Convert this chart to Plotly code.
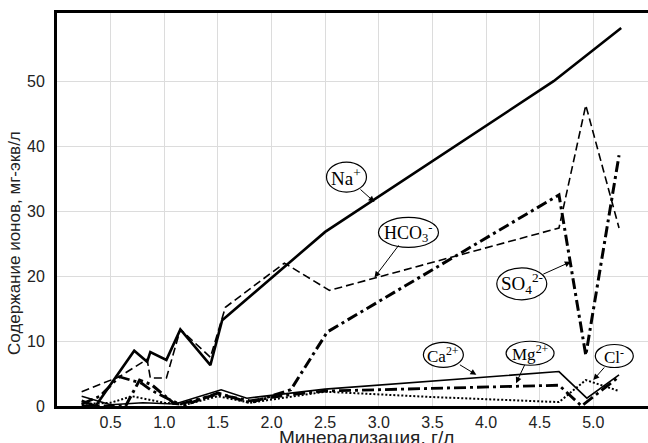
import plotly.graph_objects as go

# ---------------- data ----------------
na_x = [0.23, 0.36, 0.72, 0.84, 0.87, 1.02, 1.15, 1.43, 1.54, 2.50, 4.63, 5.26]
na_y = [0.8, 0.0, 8.5, 6.8, 8.3, 7.1, 11.8, 6.3, 13.2, 26.8, 50.0, 58.2]

hco3_x = [0.23, 0.58, 0.84, 0.87, 1.02, 1.15, 1.43, 1.57, 2.12, 2.54, 4.68, 4.93, 5.24]
hco3_y = [2.2, 4.5, 7.2, 4.3, 4.3, 11.8, 7.5, 15.2, 22.0, 17.8, 27.4, 46.3, 27.4]

so4_x = [0.23, 0.5, 0.64, 0.77, 0.88, 1.09, 1.2, 1.5, 1.8, 2.18, 2.52, 4.68, 4.93, 5.24]
so4_y = [0.0, 0.0, 0.0, 4.0, 3.3, 0.4, 0.2, 2.0, 0.5, 2.5, 11.4, 32.5, 7.8, 38.6]

ca_x = [0.23, 0.5, 0.8, 1.1, 1.53, 1.77, 2.5, 4.68, 4.94, 5.24]
ca_y = [1.5, 0.2, 0.5, 0.3, 2.5, 1.2, 2.6, 5.3, 1.2, 4.8]

mg_x = [0.23, 0.4, 0.58, 0.79, 0.87, 1.07, 1.15, 1.5, 1.8, 2.2, 2.5, 4.68, 4.89, 5.24]
mg_y = [0.3, 1.5, 4.5, 3.5, 2.5, 0.8, 0.3, 1.8, 0.8, 1.8, 2.3, 3.2, 0.0, 4.5]

cl_x = [0.23, 0.5, 0.7, 1.0, 1.2, 1.5, 1.8, 2.2, 2.5, 3.47, 4.68, 4.93, 5.24]
cl_y = [0.3, 0.5, 1.5, 0.5, 0.2, 1.5, 0.5, 1.5, 2.2, 1.4, 0.6, 4.0, 2.3]

x_ticks = [0.5, 1.0, 1.5, 2.0, 2.5, 3.0, 3.5, 4.0, 4.5, 5.0]
y_ticks = [0, 10, 20, 30, 40, 50]

# labels: (text, arrow head x, arrow head y, text center offset px, ellipse w, h, font size)
labels = [
    ("Na<sup>+</sup>", 2.96, 31.4, -28, -25, 40, 30, 19),
    ("HCO<sub>3</sub><sup>-</sup>", 2.96, 19.8, 34, -45, 60, 30, 18),
    ("SO<sub>4</sub><sup>2-</sup>", 4.79, 22.2, -49, 22, 50, 32, 19),
    ("Ca<sup>2+</sup>", 3.91, 4.8, -33, -20, 40, 25, 17),
    ("Mg<sup>2+</sup>", 4.28, 3.5, 14, -30, 48, 24, 17),
    ("Cl<sup>-</sup>", 5.0, 4.0, 21, -24, 38, 23, 17),
]

fig = go.Figure()

def add(xs, ys, width, dash):
    fig.add_trace(go.Scatter(x=xs, y=ys, mode="lines",
                             line=dict(color="black", width=width, dash=dash),
                             showlegend=False, hoverinfo="skip"))

add(na_x, na_y, 2.6, "solid")
add(hco3_x, hco3_y, 1.6, "8px,4px")
add(so4_x, so4_y, 3.0, "11px,4px,3px,4px")
add(ca_x, ca_y, 1.6, "solid")
add(mg_x, mg_y, 2.8, "12px,4px,3px,4px")
add(cl_x, cl_y, 2.0, "2px,2px")

for text, hx, hy, ox, oy, w, h, fs in labels:
    fig.add_annotation(x=hx, y=hy, ax=ox, ay=oy, text=text, showarrow=True,
                       arrowhead=2, arrowsize=1.2, arrowwidth=1, arrowcolor="black",
                       font=dict(family="Liberation Serif", size=fs, color="black"),
                       bgcolor="rgba(255,255,255,0)", borderpad=0)
    fig.add_shape(type="circle", xref="x", yref="y", xsizemode="pixel", ysizemode="pixel",
                  xanchor=hx, yanchor=hy,
                  x0=ox - w / 2, x1=ox + w / 2, y0=-oy - h / 2, y1=-oy + h / 2,
                  line=dict(color="black", width=1.2), fillcolor="white", layer="above")

# axis titles as annotations for exact placement
fig.add_annotation(xref="paper", yref="paper", x=0.523, y=0, yshift=-31,
                   xanchor="center", yanchor="middle", showarrow=False,
                   text="Минерализация, г/л",
                   font=dict(family="Liberation Sans", size=19, color="#222"))
fig.add_annotation(xref="paper", yref="paper", x=0, xshift=-42, y=0.415,
                   xanchor="center", yanchor="middle", showarrow=False, textangle=-90,
                   text="Содержание ионов, мг-экв/л",
                   font=dict(family="Liberation Sans", size=17, color="#222"))

fig.update_layout(
    width=648, height=443,
    margin=dict(l=57, r=0, t=13, b=37),
    plot_bgcolor="white", paper_bgcolor="white",
    font=dict(family="Liberation Sans", size=16, color="#222"),
    xaxis=dict(range=[0, 5.51], tickvals=x_ticks, ticktext=[f"{v:.1f}" for v in x_ticks],
               showgrid=True, gridcolor="#dcdcdc", gridwidth=1,
               showline=True, linecolor="black", linewidth=3, mirror=True,
               ticks="", zeroline=False),
    yaxis=dict(range=[0, 60.5], tickvals=y_ticks,
               showgrid=True, gridcolor="#dcdcdc", gridwidth=1,
               showline=True, linecolor="black", linewidth=3,
               ticks="", zeroline=False, ticklabelstandoff=6),
)

fig.write_html("out.html")
